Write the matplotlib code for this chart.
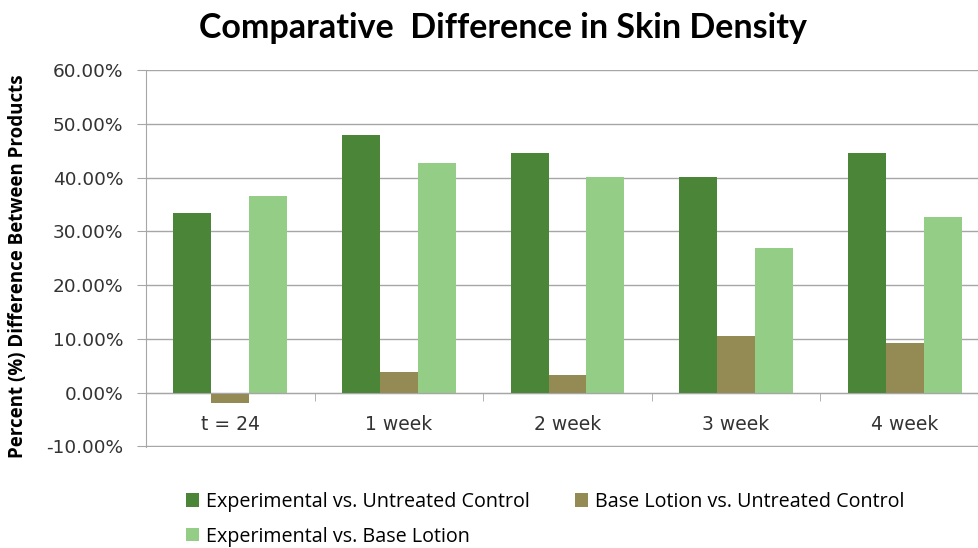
import matplotlib.pyplot as plt
import numpy as np
from matplotlib.ticker import PercentFormatter, FixedLocator

plt.rcParams['axes.unicode_minus'] = False

categorias = ['t = 24', '1 week', '2 week', '3 week', '4 week']
exp_vs_controle = [33.5, 47.9, 44.6, 40.1, 44.6]
base_vs_controle = [-2.0, 3.9, 3.2, 10.6, 9.3]
exp_vs_base = [36.6, 42.7, 40.1, 26.9, 32.7]

series = ['Experimental vs. Untreated Control', 'Base Lotion vs. Untreated Control',
          'Experimental vs. Base Lotion']
cores = ['#4a8538', '#948a54', '#94cd86']

fig = plt.figure(figsize=(9.79, 5.48), dpi=100)
ax = fig.add_axes([146/979, 1 - 447/548, (989 - 146)/979, (447 - 70)/548])

x = np.arange(len(categorias))
w = 0.225
dados = [exp_vs_controle, base_vs_controle, exp_vs_base]
barras = []
for i, (vals, cor, nome) in enumerate(zip(dados, cores, series)):
    b = ax.bar(x + (i - 1) * w, vals, w, color=cor, label=nome, zorder=3)
    barras.append(b)

ax.set_xlim(-0.5, len(categorias) - 0.5)
ax.set_ylim(-10.1, 60)
ax.set_yticks(np.arange(-10, 61, 10))
ax.yaxis.set_major_formatter(PercentFormatter(xmax=100, decimals=2))
ax.yaxis.grid(True, color='#a6a6a6', linewidth=1)
ax.set_axisbelow(True)

for s in ['top', 'right']:
    ax.spines[s].set_visible(False)
ax.spines['left'].set_color('#a6a6a6')
ax.spines['bottom'].set_color('#a6a6a6')
ax.spines['bottom'].set_position(('data', 0))
ax.spines['bottom'].set_zorder(4)

ax.set_xticks(x)
ax.set_xticklabels(categorias)
ax.xaxis.set_minor_locator(FixedLocator(x[:-1] + 0.5))
ax.tick_params(axis='x', which='major', length=0, pad=16, labelsize=13.5, labelcolor='#333333')
ax.tick_params(axis='x', which='minor', length=6, color='#a6a6a6', direction='out')
ax.tick_params(axis='y', length=6.5, color='#a6a6a6', labelsize=13.3, labelcolor='#333333', pad=10)

fig.text(503/979, 1 - 28/548, 'Comparative  Difference in Skin Density', ha='center', va='center',
         fontsize=24.5, fontweight='bold', family='Lato')
fig.text(18/979, 1 - 266/548, 'Percent (%) Difference Between Products', rotation=90, ha='center',
         va='center', fontsize=13.5, fontweight='bold', family='Open Sans')

# ordem da legenda linha por linha
ordem = [0, 2, 1]
fig.legend([barras[i] for i in ordem], [series[i] for i in ordem],
           loc='upper left', bbox_to_anchor=(178/979, 1 - 484/548), ncol=2, frameon=False,
           prop={'family': 'Open Sans', 'size': 14.2}, handlelength=0.65, handleheight=0.65,
           handletextpad=0.35, columnspacing=2.3, labelspacing=0.75, borderaxespad=0)

fig.savefig('out.png', dpi=100)
